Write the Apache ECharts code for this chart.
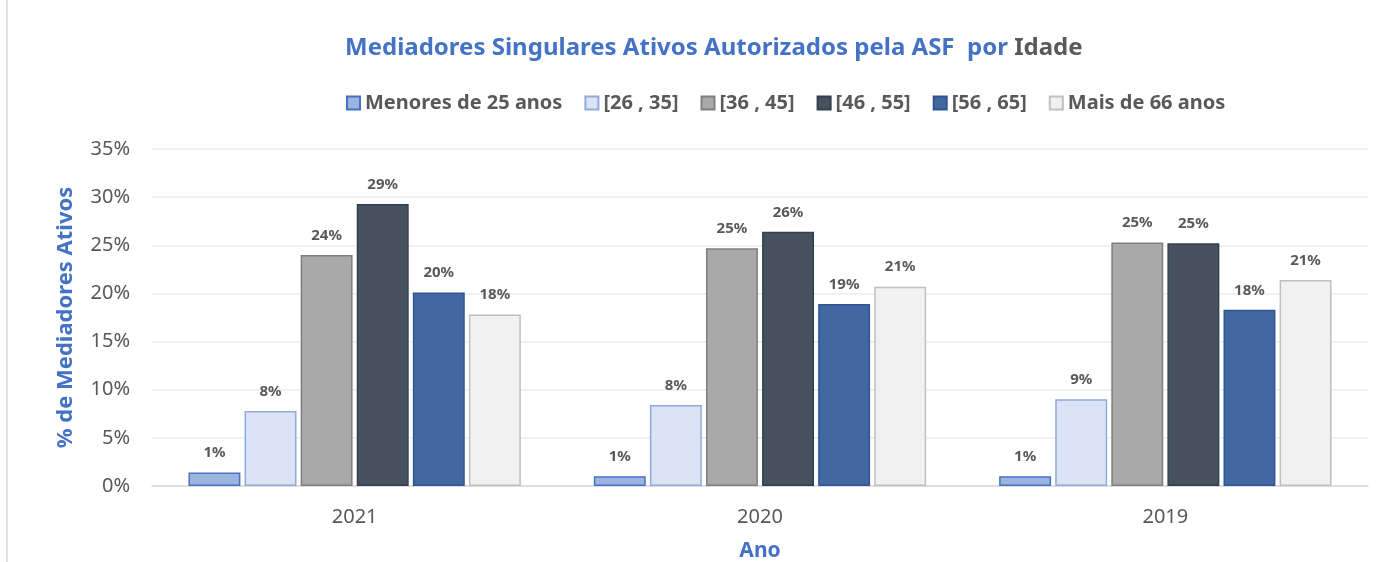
<!DOCTYPE html>
<html>
<head>
<meta charset="utf-8">
<script src="https://cdn.jsdelivr.net/npm/echarts@6/dist/echarts.min.js"></script>
<style>
  html, body { margin: 0; padding: 0; background: #fff; }
  #chart { width: 1386px; height: 562px; }
</style>
</head>
<body>
<div id="chart"></div>
<script>
// dados (% de mediadores ativos)
const anos = ["2021", "2020", "2019"];
const faixas = ["Menores de 25 anos", "[26 , 35]", "[36 , 45]", "[46 , 55]", "[56 , 65]", "Mais de 66 anos"];
const menores25 = [1.4, 1.0, 1.0];
const f26a35 = [7.8, 8.4, 9.0];
const f36a45 = [24.0, 24.7, 25.3];
const f46a55 = [29.3, 26.4, 25.2];
const f56a65 = [20.1, 18.9, 18.3];
const mais66 = [17.8, 20.7, 21.4];
const valores = [menores25, f26a35, f36a45, f46a55, f56a65, mais66];

const fill = ["#9db3e0", "#dce3f4", "#a9a9a9", "#48525f", "#4467a1", "#f1f1f1"];
const borda = ["#4472c4", "#8faadc", "#7f7f7f", "#333f50", "#2f5597", "#bfbfbf"];

const fonte = "'Noto Sans', sans-serif";
const chart = echarts.init(document.getElementById("chart"));

const series = faixas.map((nome, i) => ({
  name: nome,
  type: "bar",
  data: valores[i],
  barGap: "8%",
  barCategoryGap: "18%",
  itemStyle: { color: fill[i], borderColor: borda[i], borderWidth: 1.5 },
  label: {
    show: true,
    position: "top",
    distance: 12,
    formatter: (p) => Math.round(p.value) + "%",
    color: "#595959",
    fontWeight: "bold",
    fontSize: 15,
    fontFamily: fonte
  }
}));

chart.setOption({
  backgroundColor: "#fff",
  animation: false,
  title: {
    left: 340,
    top: 31,
    text: "{a|Mediadores Singulares Ativos Autorizados pela ASF  por }{b|Idade}",
    textStyle: {
      rich: {
        a: { color: "#4472c4", fontSize: 24, fontWeight: "bold", fontFamily: fonte },
        b: { color: "#595959", fontSize: 24, fontWeight: "bold", fontFamily: fonte }
      }
    }
  },
  legend: {
    top: 88,
    left: 341,
    itemWidth: 13,
    itemHeight: 13,
    itemGap: 22,
    icon: "rect",
    textStyle: { color: "#595959", fontSize: 20, fontWeight: "bold", fontFamily: fonte },
    data: faixas
  },
  grid: { left: 152, right: 18, top: 149, bottom: 76, outerBoundsMode: "none" },
  xAxis: {
    type: "category",
    data: anos,
    name: "Ano",
    nameLocation: "middle",
    nameGap: 55,
    nameTextStyle: { color: "#4472c4", fontSize: 21, fontWeight: "bold", fontFamily: fonte },
    axisTick: { show: false },
    axisLine: { lineStyle: { color: "#d9d9d9", width: 1.5 } },
    axisLabel: { color: "#595959", fontSize: 20, margin: 21, fontFamily: fonte }
  },
  yAxis: {
    type: "value",
    min: 0,
    max: 35,
    interval: 5,
    name: "% de Mediadores Ativos",
    nameLocation: "middle",
    nameGap: 75,
    nameTextStyle: { color: "#4472c4", fontSize: 22, fontWeight: "bold", fontFamily: fonte },
    axisLabel: { formatter: "{value}%", color: "#595959", fontSize: 20, margin: 22, fontFamily: fonte },
    splitLine: { lineStyle: { color: "#ececec", width: 1.5 } },
    axisLine: { show: false },
    axisTick: { show: false }
  },
  graphic: [
    { type: "line", shape: { x1: 7, y1: 0, x2: 7, y2: 562 }, style: { stroke: "#d9d9d9", lineWidth: 1.5 } }
  ],
  series: series
});
</script>
</body>
</html>
